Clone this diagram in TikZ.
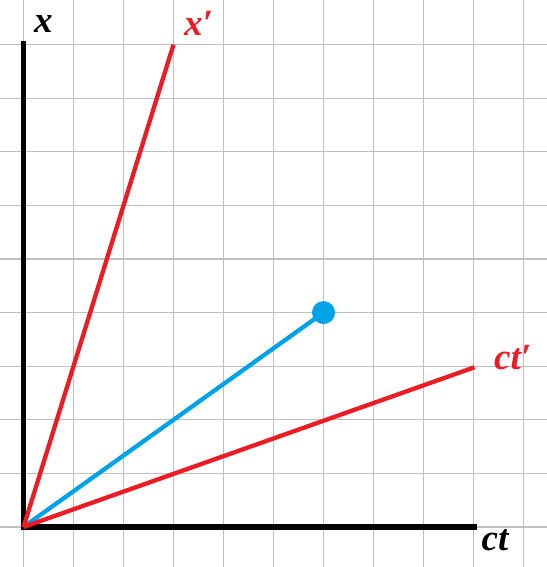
\documentclass[tikz,border=0pt]{standalone}
\usepackage{fontspec}
\setmainfont{Liberation Serif}
\definecolor{myred}{RGB}{237,28,36}
\definecolor{myblue}{RGB}{0,162,232}
\definecolor{mygrid}{RGB}{192,192,192}
\begin{document}
\begin{tikzpicture}[x=50bp,y=53.6bp,
  gridline/.style={draw=mygrid,line width=1.2bp},
  axis/.style={draw=black,line width=5bp},
  frameline/.style={draw=myred,line width=4.3bp},
  worldline/.style={draw=myblue,line width=4.3bp},
  lbl/.style={font=\fontsize{37bp}{42bp}\selectfont\bfseries\itshape,inner sep=0pt,anchor=base west}
]
\useasboundingbox (-23.5bp,-40bp) rectangle (523.5bp,527bp);
\clip (-23.5bp,-40bp) rectangle (523.5bp,527bp);
\fill[white] (-23.5bp,-40bp) rectangle (523.5bp,527bp);
\foreach \i in {0,...,10} \draw[gridline] (\i,-1) -- (\i,10);
\foreach \j in {0,...,9} \draw[gridline] (-1,\j) -- (11,\j);
\coordinate (O) at (0,0);
\coordinate (xend) at (0,9.06);
\coordinate (ctend) at (9.07,0);
\coordinate (xpend) at (3,9);
\coordinate (ctpend) at (9.02,2.98);
\draw[axis] (xend) -- (O) -- (ctend);
\node[circle,fill=myblue,minimum size=23bp,inner sep=0pt] (P) at (6,4) {};
\draw[worldline] (O) -- (P.center);
\draw[frameline] (O) -- (xpend);
\draw[frameline] (O) -- (ctpend);
\node[lbl] (lx) at (10.5bp,494bp) {x};
\node[lbl,text=myred] (lxp) at (160.5bp,491.3bp) {x′};
\node[lbl,text=myred] (lctp) at (470.5bp,157.7bp) {ct′};
\node[lbl] (lct) at (458bp,-23bp) {ct};
\end{tikzpicture}
\end{document}
